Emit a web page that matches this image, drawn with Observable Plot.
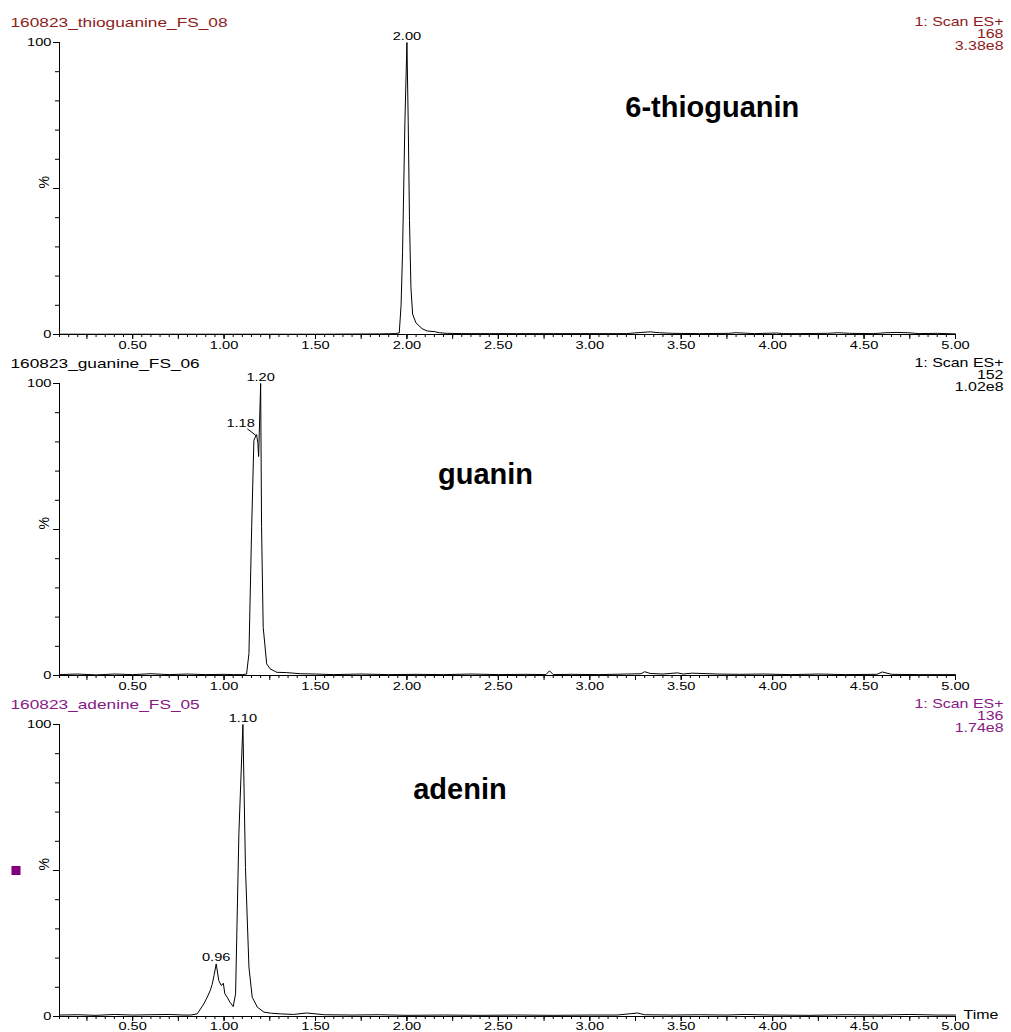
<!DOCTYPE html>
<html>
<head>
<meta charset="utf-8">
<script src="https://cdn.jsdelivr.net/npm/d3@7"></script>
<script src="https://cdn.jsdelivr.net/npm/@observablehq/plot@0.6"></script>
<style>
  body { margin: 0; background: #fff; }
  #chart { width: 1011px; height: 1032px; position: relative; overflow: hidden; background: #fff; }
  #chart svg { display: block; }
</style>
</head>
<body>
<div id="chart"></div>
<script>
// ---------- data ----------
const xDomain = [0.10, 5.00];
const yDomain = [0, 100];
const xLabelTicks = [0.5, 1.0, 1.5, 2.0, 2.5, 3.0, 3.5, 4.0, 4.5, 5.0];
const xMidTicks = d3.range(1, 21).map(k => +(k * 0.25).toFixed(2));
const xMinorTicks = d3.range(2, 101).map(k => +(k * 0.05).toFixed(2));
const yLabelTicks = [0, 100];
const yMidTicks = [0, 50, 100];
const yMinorTicks = [0, 10, 20, 30, 40, 50, 60, 70, 80, 90, 100];

const sampleNames = ["160823_thioguanine_FS_08", "160823_guanine_FS_06", "160823_adenine_FS_05"];
const scanLabels = ["1: Scan ES+", "1: Scan ES+", "1: Scan ES+"];
const massValues = ["168", "152", "136"];
const ticValues = ["3.38e8", "1.02e8", "1.74e8"];
const compoundNames = ["6-thioguanin", "guanin", "adenin"];
const compoundAt = [[3.67, 77.7], [2.43, 68.8], [2.29, 77.7]];

// [time (min), intensity (%)]
const thioguanineTrace = [
  [0.10,0.1],[0.30,0.1],[0.50,0.1],[0.70,0.1],[0.90,0.1],[1.10,0.1],[1.30,0.1],[1.50,0.1],
  [1.70,0.15],[1.85,0.2],[1.93,0.3],[1.958,0.5],[1.968,10],[1.976,28],[1.989,73],[2.000,100],
  [2.007,73],[2.014,39],[2.022,16],[2.031,7],[2.049,4],[2.083,2.0],[2.111,1.2],[2.149,1.0],
  [2.176,0.6],[2.22,0.4],[2.30,0.3],[2.45,0.3],[2.60,0.3],[2.80,0.3],[3.00,0.3],[3.20,0.3],
  [3.28,0.7],[3.33,0.9],[3.38,0.6],[3.45,0.4],[3.60,0.3],[3.76,0.4],[3.80,0.6],[3.90,0.3],
  [4.02,0.5],[4.06,0.3],[4.15,0.3],[4.30,0.4],[4.36,0.6],[4.42,0.4],[4.55,0.3],[4.62,0.6],
  [4.68,0.7],[4.74,0.6],[4.80,0.3],[4.90,0.4],[5.00,0.2]
];
const guanineTrace = [
  [0.10,0.3],[0.20,0.5],[0.30,0.2],[0.40,0.5],[0.50,0.3],[0.60,0.6],[0.70,0.3],[0.80,0.5],
  [0.90,0.3],[1.00,0.4],[1.05,0.3],[1.10,0.3],[1.123,0.5],[1.136,7.5],[1.151,51],[1.163,80.5],
  [1.173,82],[1.178,82.5],[1.185,79.5],[1.189,75],[1.200,100],[1.205,51],[1.214,16.5],[1.233,4],
  [1.251,2.3],[1.288,1.1],[1.34,1.0],[1.42,0.6],[1.50,0.5],[1.60,0.3],[1.75,0.5],[1.90,0.3],
  [2.05,0.4],[2.20,0.3],[2.35,0.5],[2.50,0.3],[2.65,0.4],[2.76,0.3],[2.78,1.6],[2.80,0.3],
  [2.90,0.4],[3.05,0.3],[3.20,0.5],[3.28,0.6],[3.30,1.3],[3.33,0.7],[3.40,0.5],[3.48,0.9],
  [3.51,0.5],[3.56,0.8],[3.70,0.5],[3.82,0.4],[3.95,0.5],[4.10,0.3],[4.25,0.5],[4.40,0.3],
  [4.57,0.4],[4.60,1.2],[4.65,0.4],[4.80,0.3],[5.00,0.3]
];
const adenineTrace = [
  [0.10,0.5],[0.20,0.6],[0.30,0.4],[0.40,0.7],[0.50,0.5],[0.60,0.6],[0.70,0.7],[0.78,0.5],
  [0.817,0.5],[0.853,0.9],[0.889,4.3],[0.908,6.6],[0.925,9],[0.935,11],[0.945,14],[0.957,18],
  [0.971,12.3],[0.985,10.6],[0.996,11.4],[1.004,7.8],[1.017,6.6],[1.032,4.9],[1.050,3.4],[1.063,7.8],
  [1.081,62.6],[1.103,100],[1.117,51],[1.136,16.9],[1.154,6.6],[1.182,3.2],[1.218,1.5],[1.26,1.1],
  [1.309,0.9],[1.38,0.7],[1.45,1.2],[1.55,0.6],[1.70,0.5],[1.85,0.6],[2.00,0.4],[2.20,0.5],
  [2.40,0.4],[2.60,0.5],[2.80,0.4],[3.00,0.5],[3.15,0.5],[3.23,1.0],[3.26,1.2],[3.30,0.6],
  [3.45,0.5],[3.60,0.6],[3.75,0.5],[3.85,0.7],[4.00,0.5],[4.20,0.4],[4.40,0.6],[4.60,0.5],
  [4.75,0.7],[4.90,0.5],[5.00,0.5]
];
const traces = [thioguanineTrace, guanineTrace, adenineTrace];

// peak labels: [time, intensity, text]
const peakLabels = [
  [[2.00, 100, "2.00"]],
  [[1.20, 100, "1.20"]],
  [[1.103, 100, "1.10"], [0.957, 18, "0.96"]]
];
// side label with leader (guanine shoulder)
const shoulderLabel = [[1.178, 82, "1.18"]];
const shoulderLeader = [[1.127, 84.5, 1.178, 82]];

// ---------- styling ----------
const headerColors = ["#8e1b1b", "#000000", "#861986"];
const FONT = "'Liberation Sans', Arial, Helvetica, sans-serif";
const STRETCH = 1.33;

function stretchText(svg, k) {
  svg.querySelectorAll("text").forEach(t => {
    if (t.closest('[font-weight="bold"]')) return;
    const tr = t.getAttribute("transform") || "";
    if (tr.includes("rotate")) return;
    if (tr) t.setAttribute("transform", tr + ` scale(${k},1)`);
    else {
      const x = +t.getAttribute("x") || 0, y = +t.getAttribute("y") || 0;
      t.setAttribute("transform", `translate(${x},${y}) scale(${k},1) translate(${-x},${-y})`);
    }
  });
}

function makePanel(i, height) {
  const color = headerColors[i];
  const peaks = peakLabels[i].map(([t, v, s]) => ({t, v, s}));
  const last = i === 2;
  const rightLines = [scanLabels[i], massValues[i], ticValues[i]];
  const marks = [
    Plot.ruleX([xDomain[0]], {y1: 0, y2: 100, stroke: "#000", strokeWidth: 1}),
    Plot.ruleY([0], {x1: xDomain[0], x2: xDomain[1], stroke: "#000", strokeWidth: 1}),
    Plot.axisX(xMinorTicks, {tickSize: 3, tickFormat: () => "", label: null}),
    Plot.axisX(xMidTicks, {tickSize: 5, tickFormat: () => "", label: null}),
    Plot.axisX(xLabelTicks, {tickSize: 5, tickPadding: last ? 1 : 2, tickFormat: d3.format(".2f"), label: null, fontSize: 11}),
    Plot.axisY(yMinorTicks, {tickSize: 4, tickFormat: () => "", label: null}),
    Plot.axisY(yMidTicks, {tickSize: 6, tickFormat: () => "", label: null}),
    Plot.axisY(yLabelTicks, {tickSize: 6, tickPadding: 2, tickFormat: d3.format("d"), label: null, fontSize: 11}),
    Plot.text(["%"], {frameAnchor: "left", dx: -15, rotate: -90, fontSize: 14, fill: "#000"}),
    Plot.line(traces[i], {x: d => d[0], y: d => d[1], stroke: "#000", strokeWidth: 1}),
    Plot.text(peaks, {x: "t", y: "v", text: "s", lineAnchor: "bottom", dy: -3, fontSize: 11, fill: "#000"}),
    Plot.text([{name: compoundNames[i], t: compoundAt[i][0], v: compoundAt[i][1]}],
      {x: "t", y: "v", text: "name", fontSize: 29, fontWeight: "bold", fill: "#000"}),
    Plot.text([sampleNames[i]], {frameAnchor: "top-left", dx: -49, dy: -20, textAnchor: "start",
      lineAnchor: "middle", fill: color, fontSize: 13}),
    ...rightLines.map((s, j) => Plot.text([s], {frameAnchor: "top-right", dx: 48, dy: -20.5 + 12 * j,
      textAnchor: "end", lineAnchor: "middle", fill: color, fontSize: 12}))
  ];
  if (i === 1) {
    marks.push(Plot.link(shoulderLeader, {x1: d => d[0], y1: d => d[1], x2: d => d[2], y2: d => d[3], stroke: "#000", strokeWidth: 1}));
    marks.push(Plot.text(shoulderLabel, {x: d => d[0], y: d => d[1], text: d => d[2], dx: -16, dy: -13, fontSize: 11, fill: "#000"}));
  }
  if (last) {
    marks.push(Plot.text(["Time"], {x: () => xDomain[1], y: () => 0, dx: 8, dy: -1, textAnchor: "start", lineAnchor: "middle", fontSize: 12, fill: "#000"}));
    marks.push(Plot.dot([0], {frameAnchor: "left", dx: -43.5, symbol: "square", r: 5.1, fill: "#800080", stroke: "none"}));
  }
  const svg = Plot.plot({
    width: 1011,
    height,
    marginLeft: 59,
    marginRight: 56,
    marginTop: 42,
    marginBottom: height - 334,
    x: {domain: xDomain},
    y: {domain: yDomain},
    style: {fontFamily: FONT, fontSize: "11px", color: "#000", background: "transparent", overflow: "visible"},
    marks
  });
  stretchText(svg, STRETCH);
  return svg;
}

const chart = document.getElementById("chart");
[341, 341, 350].forEach((h, i) => chart.appendChild(makePanel(i, h)));
</script>
</body>
</html>
